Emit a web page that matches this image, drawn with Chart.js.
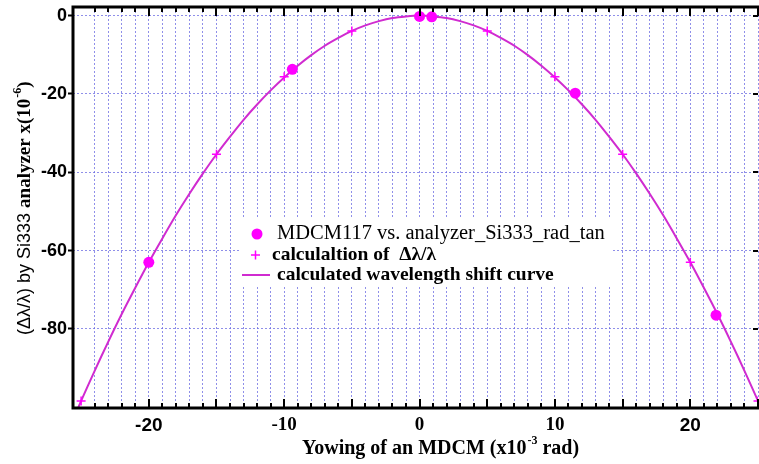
<!DOCTYPE html>
<html>
<head>
<meta charset="utf-8">
<script src="https://cdn.jsdelivr.net/npm/chart.js@4.4.1/dist/chart.umd.min.js"></script>
<style>
  html, body { margin: 0; padding: 0; background: #ffffff; }
  canvas { display: block; }
</style>
</head>
<body>
<canvas id="chart" width="759" height="464"></canvas>
<script>
const curveX = [-26, -25, -24, -23, -22, -21, -20, -19, -18, -17, -16, -15, -14, -13, -12, -11, -10, -9, -8, -7, -6, -5, -4, -3, -2, -1,
  0, 1, 2, 3, 4, 5, 6, 7, 8, 9, 10, 11, 12, 13, 14, 15, 16, 17, 18, 19, 20, 21, 22, 23, 24, 25]
const curveY = [-106.5, -98.4, -90.7, -83.3, -76.2, -69.5, -63.0, -56.9, -51.0, -45.5, -40.3, -35.4, -30.9, -26.6, -22.7, -19.1, -15.8, -12.8, -10.1, -7.7, -5.7, -3.9, -2.5, -1.4, -0.6, -0.2,
  0, -0.2, -0.6, -1.4, -2.5, -3.9, -5.7, -7.7, -10.1, -12.8, -15.8, -19.1, -22.7, -26.6, -30.9, -35.4, -40.3, -45.5, -51.0, -56.9, -63.0, -69.5, -76.2, -83.3, -90.7, -98.4]

// MDCM117 vs. analyzer_Si333_rad_tan
const measuredX = [-20, -9.4, 0, 0.9, 11.5, 21.9]
const measuredY = [-63, -13.7, -0.2, -0.3, -19.8, -76.5]

// calculaltion of dl/l
const calcX = [-25, -20, -15, -10, -5, 0, 5, 10, 15, 20, 25]
const calcY = [-98.4, -63, -35.4, -15.6, -3.9, 0, -3.9, -15.6, -35.4, -63, -98.4]

const xTickLabels = [-20, -10, 0, 10, 20]
const yTickLabels = [0, -20, -40, -60, -80]
const legendLabels = [
  'MDCM117 vs. analyzer_Si333_rad_tan',
  'calculaltion of  \u0394\u03bb/\u03bb',
  'calculated wavelength shift curve',
]

const MAGENTA = '#ff00ff'
const CURVE = '#d02bd0'
const GRID = 'rgba(105, 105, 225, 0.75)'

const toPoints = (xs, ys) => xs.map((x, i) => ({ x, y: ys[i] }))

const boldSerif = (size) => `bold ${size}px "Liberation Serif", "Times New Roman", serif`

// no extra room for edge labels, the plot box is fixed by layout padding
const noEdgePadding = (scale) => {
  scale.paddingTop = 0
  scale.paddingBottom = 0
  scale.paddingLeft = 0
  scale.paddingRight = 0
}

const framePlugin = {
  id: 'frame',

  beforeDatasetsDraw(chart) {
    const { ctx } = chart
    ctx.save()
    ctx.fillStyle = '#ffffff'
    ctx.fillRect(240, 217, 372, 70)
    ctx.restore()
  },

  afterDatasetsDraw(chart) {
    const { ctx, chartArea, scales } = chart
    const { left, right, top, bottom } = chartArea
    ctx.save()

    // inner ticks on top and bottom edges
    ctx.strokeStyle = '#000'
    ctx.lineWidth = 2
    scales.x.ticks.forEach((t) => {
      const px = Math.round(scales.x.getPixelForValue(t.value))
      const len = t.value % 5 === 0 ? 9 : 5
      ctx.beginPath()
      ctx.moveTo(px, bottom)
      ctx.lineTo(px, bottom - len)
      ctx.moveTo(px, top)
      ctx.lineTo(px, top + len)
      ctx.stroke()
    })
    // inner ticks on the right edge
    yTickLabels.forEach((v) => {
      const py = Math.round(scales.y.getPixelForValue(v))
      ctx.beginPath()
      ctx.moveTo(right, py)
      ctx.lineTo(right - 5, py)
      ctx.stroke()
    })

    // frame (right edge is cut off in the original)
    ctx.lineWidth = 3
    ctx.beginPath()
    ctx.moveTo(right + 2, top)
    ctx.lineTo(left, top)
    ctx.lineTo(left, bottom)
    ctx.lineTo(right + 2, bottom)
    ctx.stroke()

    // legend entries
    ctx.fillStyle = MAGENTA
    ctx.beginPath()
    ctx.arc(257, 234, 5.5, 0, Math.PI * 2)
    ctx.fill()
    ctx.strokeStyle = MAGENTA
    ctx.lineWidth = 1.5
    ctx.beginPath()
    ctx.moveTo(251, 255)
    ctx.lineTo(260, 255)
    ctx.moveTo(255.5, 250.5)
    ctx.lineTo(255.5, 259.5)
    ctx.stroke()
    ctx.strokeStyle = CURVE
    ctx.lineWidth = 2
    ctx.beginPath()
    ctx.moveTo(242, 275)
    ctx.lineTo(270, 275)
    ctx.stroke()

    ctx.fillStyle = '#000'
    ctx.textBaseline = 'middle'
    ctx.textAlign = 'left'
    ctx.font = '20.5px "Liberation Serif", "Times New Roman", serif'
    ctx.fillText(legendLabels[0], 277, 234)
    ctx.font = boldSerif(19.5)
    ctx.fillText(legendLabels[1], 272, 255)
    ctx.fillText(legendLabels[2], 277, 275)
    ctx.restore()
  },

  afterDraw(chart) {
    const { ctx } = chart
    ctx.save()
    ctx.fillStyle = '#000'
    ctx.textBaseline = 'alphabetic'
    ctx.textAlign = 'left'

    // x axis title with superscript
    let x = 302
    const baseX = 454
    ctx.font = boldSerif(20)
    ctx.fillText('Yowing of an MDCM (x10', x, baseX)
    x += ctx.measureText('Yowing of an MDCM (x10').width
    ctx.font = boldSerif(12)
    ctx.fillText('-3', x + 1, baseX - 10)
    x += ctx.measureText('-3').width + 1
    ctx.font = boldSerif(20)
    ctx.fillText(' rad)', x, baseX)

    // y axis title, rotated
    ctx.translate(30, 335)
    ctx.rotate(-Math.PI / 2)
    let y = 0
    ctx.font = '18px "Liberation Sans", Arial, sans-serif'
    const p1 = '(\u0394\u03bb/\u03bb) by Si333 '
    ctx.fillText(p1, y, 0)
    y += ctx.measureText(p1).width
    ctx.font = boldSerif(19)
    ctx.fillText('analyzer x(10', y, 0)
    y += ctx.measureText('analyzer x(10').width
    ctx.font = boldSerif(12)
    ctx.fillText('-6', y + 1, -9)
    y += ctx.measureText('-6').width + 1
    ctx.font = boldSerif(19)
    ctx.fillText(')', y, 0)
    ctx.restore()
  },
}

new Chart(document.getElementById('chart'), {
  type: 'scatter',
  data: {
    datasets: [
      {
        label: legendLabels[0],
        data: toPoints(measuredX, measuredY),
        pointStyle: 'circle',
        pointRadius: 5.5,
        backgroundColor: MAGENTA,
        borderColor: MAGENTA,
        borderWidth: 0,
      },
      {
        label: legendLabels[1],
        data: toPoints(calcX, calcY),
        pointStyle: 'cross',
        pointRadius: 4.5,
        borderColor: MAGENTA,
        borderWidth: 1.5,
      },
      {
        label: legendLabels[2],
        data: toPoints(curveX, curveY),
        showLine: true,
        pointRadius: 0,
        borderColor: CURVE,
        borderWidth: 2,
        tension: 0.3,
      },
    ],
  },
  options: {
    responsive: false,
    animation: false,
    layout: { autoPadding: false, padding: { top: 7, right: 1, left: 0, bottom: 0 } },
    plugins: {
      legend: { display: false },
      tooltip: { enabled: false },
    },
    scales: {
      x: {
        type: 'linear',
        min: -25.6,
        max: 25,
        afterBuildTicks: (scale) => {
          scale.ticks = scale.ticks.filter((t) => Math.abs(t.value - Math.round(t.value)) < 1e-6)
        },
        afterFit: (scale) => {
          scale.height = 56
          noEdgePadding(scale)
        },
        ticks: {
          stepSize: 1,
          autoSkip: false,
          maxRotation: 0,
          padding: 6,
          color: '#000',
          font: (c) => {
            const v = c.tick ? c.tick.value : 0
            return Math.abs(v) === 20
              ? { family: '"Liberation Sans", Arial, sans-serif', weight: 'bold', size: 19 }
              : { family: '"Liberation Serif", "Times New Roman", serif', weight: 'bold', size: 19 }
          },
          callback: (v) => (xTickLabels.includes(v) ? String(v) : ''),
        },
        grid: { color: GRID, lineWidth: 1, drawTicks: false, borderDash: [2, 2] },
        border: { display: false, dash: [2, 2] },
      },
      y: {
        type: 'linear',
        min: -100.2,
        max: 2.2,
        afterBuildTicks: (scale) => {
          scale.ticks = yTickLabels.map((v) => ({ value: v }))
        },
        afterFit: (scale) => {
          scale.width = 73
          noEdgePadding(scale)
        },
        ticks: {
          padding: 1,
          color: '#000',
          font: { family: '"Liberation Sans", Arial, sans-serif', weight: 'bold', size: 18 },
          callback: (v) => (yTickLabels.includes(v) ? String(v) : ''),
        },
        grid: { color: GRID, lineWidth: 1, tickColor: '#000', tickLength: 5, tickWidth: 2, borderDash: [2, 2] },
        border: { display: false, dash: [2, 2] },
      },
    },
  },
  plugins: [framePlugin],
})
</script>
</body>
</html>
